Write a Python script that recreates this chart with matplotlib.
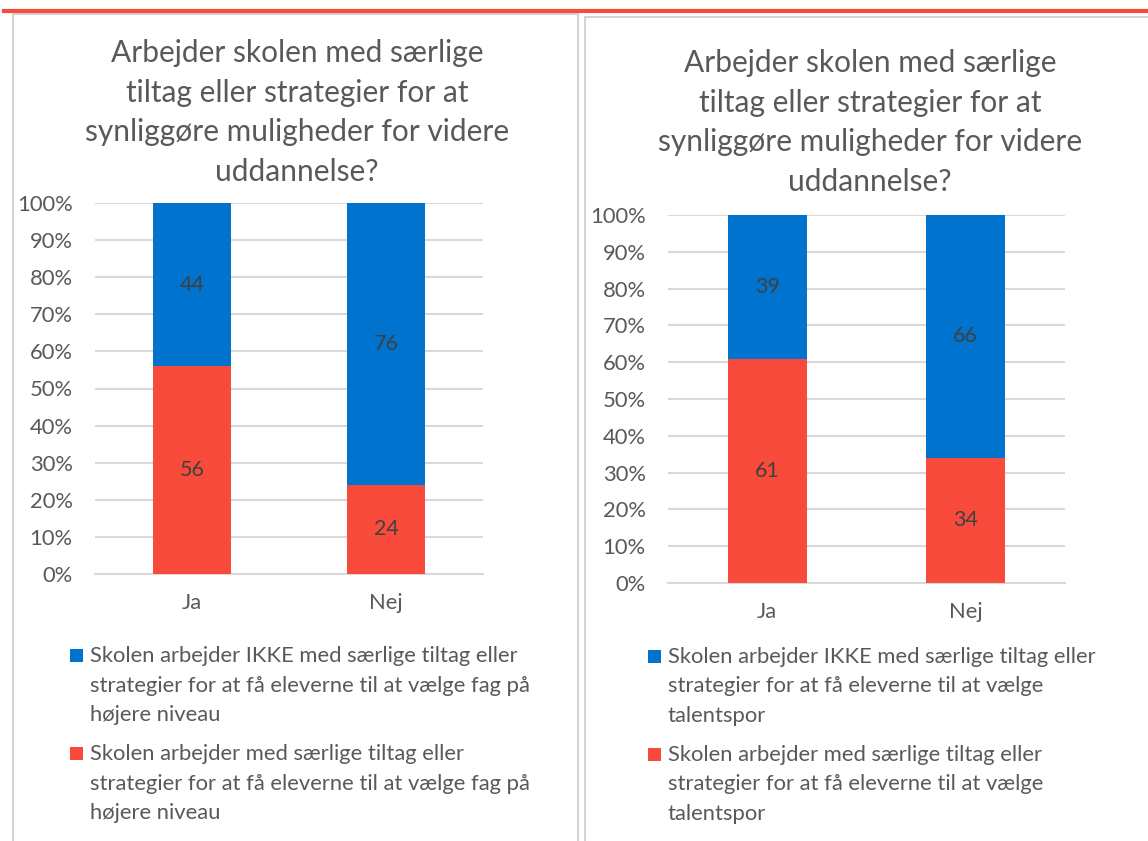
import matplotlib
matplotlib.use("Agg")
import matplotlib.pyplot as plt
from matplotlib.patches import Rectangle
from matplotlib.lines import Line2D

plt.rcParams['font.family'] = ['Lato', 'DejaVu Sans']

categories = ["Ja", "Nej"]
title_lines = ["Arbejder skolen med særlige", "tiltag eller strategier for at",
               "synliggøre muligheder for videre", "uddannelse?"]

left_not = [44, 76]
left_yes = [56, 24]
left_labels = [["Skolen arbejder IKKE med særlige tiltag eller",
                "strategier for at få eleverne til at vælge fag på", "højere niveau"],
               ["Skolen arbejder med særlige tiltag eller",
                "strategier for at få eleverne til at vælge fag på", "højere niveau"]]

right_not = [39, 66]
right_yes = [61, 34]
right_labels = [["Skolen arbejder IKKE med særlige tiltag eller",
                 "strategier for at få eleverne til at vælge", "talentspor"],
                ["Skolen arbejder med særlige tiltag eller",
                 "strategier for at få eleverne til at vælge", "talentspor"]]

yticks = [0, 10, 20, 30, 40, 50, 60, 70, 80, 90, 100]

BLUE = "#0073CF"
RED = "#F94B3B"
GRAY_TXT = "#595959"
GRID = "#D9D9D9"

W, H = 1148, 841
fig = plt.figure(figsize=(W/100, H/100), dpi=100)

def fx(x): return x / W
def fy(y): return 1 - y / H

# top red line and panel borders
fig.add_artist(Line2D([fx(4), 1], [fy(11), fy(11)], color=RED, lw=3))
fig.add_artist(Rectangle((fx(13), fy(845)), fx(565), (845-14)/H, fill=False, ec="#D4D4D4", lw=1.5))
fig.add_artist(Rectangle((fx(585), fy(845)), fx(580), (845-17)/H, fill=False, ec="#D4D4D4", lw=1.5))

def panel(x0, x1, ytop, ybot, not_vals, yes_vals, labels, title_cx, title_y0, leg_x, leg_y):
    ax = fig.add_axes([fx(x0), fy(ybot), (x1-x0)/W, (ybot-ytop)/H])
    xs = range(len(categories))
    ax.bar(xs, yes_vals, width=0.40, color=RED, zorder=3)
    ax.bar(xs, not_vals, bottom=yes_vals, width=0.40, color=BLUE, zorder=3)
    for i in xs:
        ax.text(i, yes_vals[i]/2, str(yes_vals[i]), ha='center', va='center', fontsize=15.5, color="#404040", zorder=4)
        ax.text(i, yes_vals[i] + not_vals[i]/2, str(not_vals[i]), ha='center', va='center', fontsize=15.5, color="#404040", zorder=4)
    ax.set_xlim(-0.5, 1.5)
    ax.set_ylim(0, 100)
    ax.set_yticks(yticks)
    ax.set_yticklabels([f"{t}%" for t in yticks])
    ax.set_xticks(list(xs))
    ax.set_xticklabels(categories)
    ax.tick_params(axis='y', length=0, pad=16, labelsize=15.8, labelcolor=GRAY_TXT)
    ax.tick_params(axis='x', length=0, pad=14, labelsize=15.8, labelcolor=GRAY_TXT)
    ax.grid(axis='y', color=GRID, lw=1.5, zorder=0)
    for s in ['top', 'right', 'left']:
        ax.spines[s].set_visible(False)
    ax.spines['bottom'].set_color(GRID)
    ax.spines['bottom'].set_linewidth(1.5)
    ax.spines['bottom'].set_zorder(2)
    for k, line in enumerate(title_lines):
        fig.text(fx(title_cx), fy(title_y0 + 39.7 * k), line, ha='center', va='center',
                 fontsize=21.5, color=GRAY_TXT)
    colors = [BLUE, RED]
    for e, entry in enumerate(labels):
        y0 = leg_y + e * 98
        fig.add_artist(Rectangle((fx(leg_x), fy(y0 + 6)), 13/W, 13/H, color=colors[e], lw=0))
        for k, line in enumerate(entry):
            fig.text(fx(leg_x + 20), fy(y0 + 29.5 * k), line, ha='left', va='center',
                     fontsize=15.8, color=GRAY_TXT)

panel(95, 483, 203, 574, left_not, left_yes, left_labels, 297, 53, 70, 656)
panel(668, 1065, 215, 583, right_not, right_yes, right_labels, 870, 63, 648, 657)

fig.savefig("out.png", dpi=100)
